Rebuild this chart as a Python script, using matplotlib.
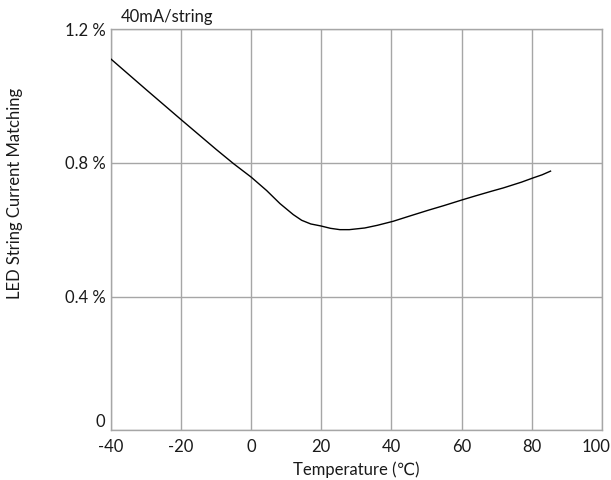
import matplotlib
matplotlib.use("Agg")
import matplotlib.pyplot as plt
from matplotlib.transforms import ScaledTranslation

temperature = [-40, -30, -20, -10, -5, 0, 4.4, 8.2, 12, 14.4, 17, 19.9, 22.6, 25.3, 28, 32.4, 36, 40.5, 45, 50.5, 55, 60.5, 64, 68.6, 72, 77.1, 80.5, 83, 85.4]
matching = [1.110, 1.019, 0.929, 0.840, 0.797, 0.757, 0.717, 0.678, 0.645, 0.628, 0.617, 0.611, 0.604, 0.600, 0.600, 0.605, 0.613, 0.625, 0.640, 0.658, 0.672, 0.690, 0.701, 0.715, 0.725, 0.742, 0.755, 0.764, 0.775]

x_ticks = [-40, -20, 0, 20, 40, 60, 80, 100]
x_tick_labels = ["-40", "-20", "0", "20", "40", "60", "80", "100"]
y_ticks = [0, 0.4, 0.8, 1.2]
y_tick_labels = ["0", "0.4 %", "0.8 %", "1.2 %"]

plt.rcParams['font.family'] = ['Lato', 'DejaVu Sans']
plt.rcParams['axes.unicode_minus'] = False

fig = plt.figure(figsize=(6.11, 4.8), dpi=100)
ax = fig.add_axes([111/611, 1-430.3/480, (601.7-111)/611, (430.3-29)/480])

grid_color = "#a6a6a6"
text_color = "#1a1a1a"
ax.plot(temperature, matching, color="black", lw=1.0, zorder=3)
ax.set_xlim(-40, 100)
ax.set_ylim(0, 1.2)
ax.set_xticks(x_ticks)
ax.set_xticklabels(x_tick_labels)
ax.set_yticks(y_ticks)
ax.set_yticklabels(y_tick_labels)
ax.grid(True, color=grid_color, lw=1.0)
for s in ax.spines.values():
    s.set_color(grid_color)
    s.set_linewidth(1.0)
ax.tick_params(length=0, labelsize=12, colors=text_color, pad=4)
ax.tick_params(axis='x', pad=6)
xl = ax.get_xticklabels()
xl[-1].set_transform(xl[-1].get_transform() + ScaledTranslation(-6/100, 0, fig.dpi_scale_trans))
yl = ax.get_yticklabels()
yl[0].set_verticalalignment("bottom")
ax.set_xlabel("Temperature (℃)", fontsize=12, color=text_color, labelpad=5)
fig.text(15/611, 1-193/480, "LED String Current Matching", rotation=90, fontsize=12,
         color=text_color, ha="center", va="center")
ax.text(0.02, 1.01, "40mA/string", transform=ax.transAxes, fontsize=12, color=text_color,
        ha="left", va="bottom")

fig.savefig("out.png", dpi=100)
